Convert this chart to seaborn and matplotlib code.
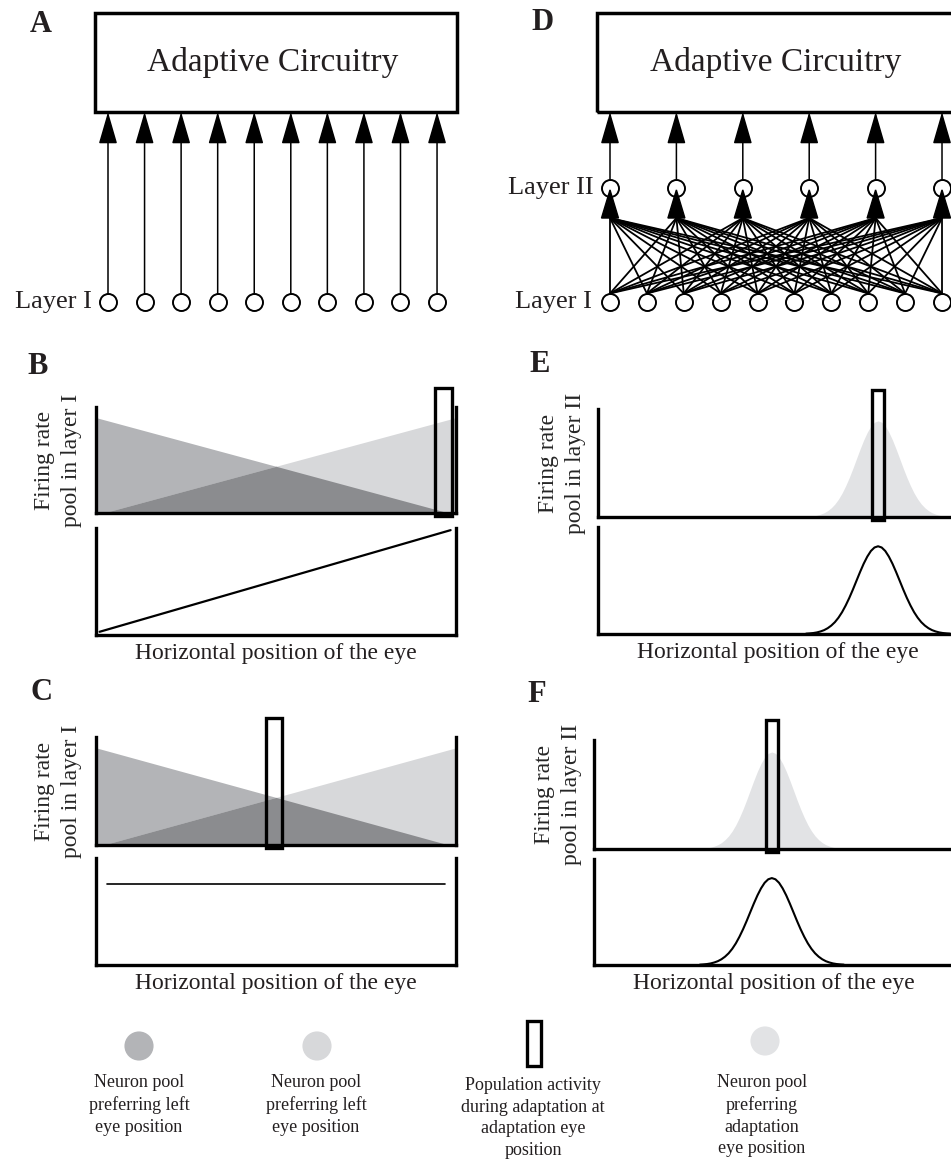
import numpy as np
import matplotlib
matplotlib.use("Agg")
import matplotlib.pyplot as plt
from matplotlib.patches import Rectangle, FancyArrowPatch, Polygon
import seaborn as sns

# ---------------- data ----------------
n_layer1 = 10
n_layer2 = 6

# linear tuning of the two layer-I pools (eye position 0 = left, 1 = right)
pool_left_x = [0.0, 0.98]
pool_left_rate = [0.9, 0.0]
pool_right_x = [0.02, 1.0]
pool_right_rate = [0.0, 0.9]

# adaptation eye positions per panel
adapt_B = 0.965
adapt_C = 0.495
adapt_E = 0.778
adapt_F = 0.494

# amplitude change, panels B and C
amp_B_x = [0.01, 0.985]
amp_B_y = [0.03, 0.98]
amp_C_x = [0.03, 0.97]
amp_C_y = [0.76, 0.76]

tuning_offset = [-0.20, -0.19, -0.18, -0.17, -0.16, -0.15, -0.14, -0.13, -0.12, -0.11,
                 -0.10, -0.09, -0.08, -0.07, -0.06, -0.05, -0.04, -0.03, -0.02, -0.01,
                 0.0, 0.01, 0.02, 0.03, 0.04, 0.05, 0.06, 0.07, 0.08, 0.09, 0.10,
                 0.11, 0.12, 0.13, 0.14, 0.15, 0.16, 0.17, 0.18, 0.19, 0.20]
tuning_shape = [0.004, 0.007, 0.011, 0.018, 0.029, 0.044, 0.066, 0.096, 0.135, 0.186,
                0.249, 0.325, 0.411, 0.506, 0.607, 0.707, 0.801, 0.882, 0.946, 0.986,
                1.0, 0.986, 0.946, 0.882, 0.801, 0.707, 0.607, 0.506, 0.411, 0.325, 0.249,
                0.186, 0.135, 0.096, 0.066, 0.044, 0.029, 0.018, 0.011, 0.007, 0.004]
firing_peak = 0.89
amp_peak = 0.82

legend_texts = ["Neuron pool\npreferring left\neye position",
                "Neuron pool\npreferring left\neye position",
                "Population activity\nduring adaptation at\nadaptation eye\nposition",
                "Neuron pool\npreferring\nadaptation\neye position"]

# ---------------- style ----------------
sns.set_theme(style="white")
plt.rcParams["font.family"] = ["Liberation Serif", "DejaVu Serif"]
plt.rcParams["text.color"] = "#231f20"

LEFT_POOL = "#b3b4b7"
RIGHT_POOL = "#d7d8da"
OVERLAP = "#8b8c8f"
ADAPT_POOL = "#e2e3e5"
SPINE_LW = 2.4
RECT_LW = 2.4
LABEL_FS = 17

W, H = 951, 1162
fig = plt.figure(figsize=(W / 100, H / 100), dpi=100)


def px_axes(left, top, right, bottom):
    return fig.add_axes([left / W, 1 - bottom / H, (right - left) / W, (bottom - top) / H])


def style_axes(ax, right_spine=True):
    ax.set_xlim(0, 1)
    ax.set_ylim(0, 1)
    ax.set_xticks([])
    ax.set_yticks([])
    ax.set_facecolor("none")
    ax.spines["top"].set_visible(False)
    ax.spines["right"].set_visible(right_spine)
    for s in ["left", "bottom", "right"]:
        ax.spines[s].set_linewidth(SPINE_LW)
        ax.spines[s].set_color("black")
        ax.spines[s].set_capstyle("projecting")


def set_ylab(ax, text, offset_px, width_px):
    ax.set_ylabel(text, fontsize=LABEL_FS, linespacing=1.35, va="center")
    ax.yaxis.set_label_coords(-offset_px / width_px, 0.5)


def set_xlab(ax, height_px):
    ax.text(0.5, -8 / height_px, "Horizontal position of the eye", fontsize=LABEL_FS,
            ha="center", va="top", transform=ax.transAxes)


def adapt_rect(ax, pos, width):
    ax.add_patch(Rectangle((pos - width / 2, -0.03), width, 1.21, fill=False,
                           ec="black", lw=RECT_LW, clip_on=False, zorder=6))


def pools_panel(ax, adapt, width):
    ax.fill_between(pool_left_x, 0, pool_left_rate, color=LEFT_POOL, lw=0)
    ax.fill_between(pool_right_x, 0, pool_right_rate, color=RIGHT_POOL, lw=0)
    grid = np.linspace(0, 1, 401)
    lo = np.minimum(np.interp(grid, pool_left_x, pool_left_rate, right=0),
                    np.interp(grid, pool_right_x, pool_right_rate, left=0))
    ax.fill_between(grid, 0, lo, color=OVERLAP, lw=0)
    adapt_rect(ax, adapt, width)


def bell_panel(ax, center, width):
    x = np.array(tuning_offset) + center
    ax.fill_between(x, 0, firing_peak * np.array(tuning_shape), color=ADAPT_POOL, lw=0)
    adapt_rect(ax, center, width)


def amp_bell(ax, center):
    x = np.array(tuning_offset) + center
    sns.lineplot(x=x, y=amp_peak * np.array(tuning_shape), ax=ax, color="black", lw=1.5)


# ---------------- B / C / E / F ----------------
# panel B
axB1 = px_axes(96, 407, 456, 513)
style_axes(axB1)
pools_panel(axB1, adapt_B, 0.047)
set_ylab(axB1, "Firing rate\npool in layer I", 38, 360)
axB2 = px_axes(96, 528, 456, 635)
style_axes(axB2)
sns.lineplot(x=amp_B_x, y=amp_B_y, ax=axB2, color="black", lw=1.6)
set_ylab(axB2, "Amplitude\nchange", 38, 360)
set_xlab(axB2, 107)

# panel C
axC1 = px_axes(96, 737, 456, 845)
style_axes(axC1)
pools_panel(axC1, adapt_C, 0.045)
set_ylab(axC1, "Firing rate\npool in layer I", 38, 360)
axC2 = px_axes(96, 858, 456, 965)
style_axes(axC2)
sns.lineplot(x=amp_C_x, y=amp_C_y, ax=axC2, color="black", lw=1.2)
set_ylab(axC2, "Amplitude\nchange", 38, 360)
set_xlab(axC2, 107)

# panel E
axE1 = px_axes(598, 409, 958, 517)
style_axes(axE1)
bell_panel(axE1, adapt_E, 0.033)
set_ylab(axE1, "Firing rate\npool in layer II", 36, 360)
axE2 = px_axes(598, 527, 958, 634)
style_axes(axE2)
amp_bell(axE2, adapt_E)
set_ylab(axE2, "Amplitude\nchange", 36, 360)
set_xlab(axE2, 107)

# panel F
axF1 = px_axes(594, 740, 954, 849)
style_axes(axF1)
bell_panel(axF1, adapt_F, 0.033)
set_ylab(axF1, "Firing rate\npool in layer II", 36, 360)
axF2 = px_axes(594, 859, 954, 965)
style_axes(axF2)
amp_bell(axF2, adapt_F)
set_ylab(axF2, "Amplitude\nchange", 36, 360)
set_xlab(axF2, 106)

# ---------------- network diagrams A / D ----------------
LAYER1_PY = 302
LAYER_UNIT = 190
R = 0.045           # circle radius in layer units
BOX_TOP = 1.52


def net_axes(left, right, x0, dx):
    ax = px_axes(left, 0, right, 330)
    ax.set_xlim((left - x0) / dx, (right - x0) / dx)
    ax.set_ylim((LAYER1_PY - 330) / LAYER_UNIT, LAYER1_PY / LAYER_UNIT)
    ax.axis("off")
    return ax


def up_arrow(ax, x, y0, y1):
    ax.add_patch(FancyArrowPatch((x, y0), (x, y1),
                                 arrowstyle="-|>,head_length=1.0,head_width=0.29",
                                 mutation_scale=20, color="black", lw=1.1,
                                 shrinkA=0, shrinkB=0, zorder=2))


def circles(ax, xs, y):
    sns.scatterplot(x=xs, y=np.full(len(xs), y), ax=ax, s=150, color="white",
                    edgecolor="black", linewidth=1.4, zorder=3, legend=False)


# panel A
axA = net_axes(0, 475, 108, 36.56)
l1 = np.arange(n_layer1)
axA.add_patch(Rectangle((-0.356, 1.0), 9.9, BOX_TOP - 1.0, fill=False, ec="black", lw=2.5))
axA.text(4.5, 1.26, "Adaptive Circuitry", fontsize=24, ha="center", va="center")
for x in l1:
    up_arrow(axA, x, R, 1.0)
circles(axA, l1, 0)
axA.text(-0.45, 0.0, "Layer I", fontsize=19, ha="right", va="center")

# panel D
axD = net_axes(475, 951, 610, 36.89)
l2 = np.arange(n_layer2) * (n_layer1 - 1) / (n_layer2 - 1)
axD.add_patch(Rectangle((-0.352, 1.0), 9.7, BOX_TOP - 1.0, fill=False, ec="black", lw=2.5))
axD.text(4.5, 1.26, "Adaptive Circuitry", fontsize=24, ha="center", va="center")
head_base = 0.442
for xi in l1:
    for xj in l2:
        axD.plot([xi, xj], [R, head_base], color="black", lw=1.3, zorder=1)
circles(axD, l2, 0.6)
for xj in l2:
    axD.add_patch(Polygon([(xj - 0.23, head_base), (xj + 0.23, head_base), (xj, 0.59)],
                          closed=True, color="black", zorder=4))
    up_arrow(axD, xj, 0.6 + R, 1.0)
circles(axD, l1, 0)
axD.text(-0.5, 0.0, "Layer I", fontsize=19, ha="right", va="center")
axD.text(-0.44, 0.6, "Layer II", fontsize=19, ha="right", va="center")

# ---------------- panel letters ----------------
for letter, (px, py) in {"A": (41, 24), "D": (543, 23), "B": (38, 367),
                         "E": (540, 365), "C": (42, 693), "F": (537, 694)}.items():
    fig.text(px / W, 1 - py / H, letter, fontsize=22, fontweight="bold",
             ha="center", va="center")

# ---------------- legend row ----------------
axL = px_axes(0, 1000, 951, 1162)
axL.set_xlim(0, 951)
axL.set_ylim(1162, 1000)
axL.axis("off")
sns.scatterplot(x=[139, 317, 765], y=[1046, 1046, 1041], ax=axL, s=440,
                hue=["l", "r", "a"], palette=[LEFT_POOL, RIGHT_POOL, ADAPT_POOL],
                linewidth=0, legend=False)
axL.add_patch(Rectangle((527, 1021), 14, 45, fill=False, ec="black", lw=RECT_LW))
for txt, tx, ty in zip(legend_texts, [139, 316, 533, 762], [1074, 1074, 1077, 1074]):
    axL.text(tx, ty, txt, fontsize=13, ha="center", va="top", linespacing=1.36)

fig.savefig("out.png", dpi=100)
